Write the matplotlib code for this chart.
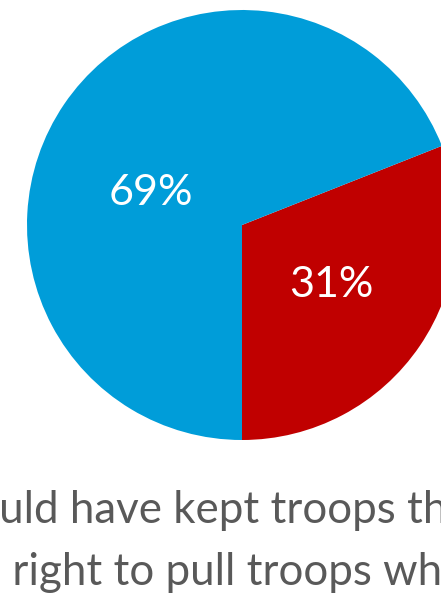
import matplotlib
matplotlib.use("Agg")
import matplotlib.pyplot as plt
from matplotlib.font_manager import FontProperties

# values
labels = ["Was right to pull troops when it did", "Should have kept troops there"]
shares = [31, 69]
colors = ["#C00000", "#009DD9"]
legend_order = [1, 0]
hidden_prefix = ["Sho", "Was "]   # part of each legend line that falls off the left edge

W, H = 441, 602
fig = plt.figure(figsize=(W / 100, H / 100), dpi=100)

# pie: centre (242,225) px from top, radius 215 px
cx, cy, r = 242, 225, 215
ax = fig.add_axes([(cx - r) / W, (H - cy - r) / H, 2 * r / W, 2 * r / H])
wedges, texts, autotexts = ax.pie(shares, colors=colors, startangle=-90, counterclock=True,
                                  autopct="%d%%", pctdistance=0.5, radius=1,
                                  textprops=dict(color="white", fontsize=31, family="Lato"),
                                  wedgeprops=dict(linewidth=0))
# excel "best fit" nudges the big label round a bit
autotexts[1].set_position((-0.423, 0.149))
for t in autotexts:
    t.set_va("center")
    t.set_ha("center")
ax.set_xlim(-1, 1)
ax.set_ylim(-1, 1)
ax.axis("off")

# legend text, running off both sides of the picture
fp = FontProperties(family="Lato", size=31.6)
renderer = fig.canvas.get_renderer()
starts = [-1, 12]
baselines = [H - 523, H - 585]
for i, idx in enumerate(legend_order):
    pre_w, _, _ = renderer.get_text_width_height_descent(hidden_prefix[i], fp, ismath=False)
    x0 = starts[i] - pre_w
    fig.text(x0 / W, baselines[i] / H, labels[idx], fontproperties=fp,
             color="#595959", ha="left", va="baseline")

fig.savefig("out.png", dpi=100)
